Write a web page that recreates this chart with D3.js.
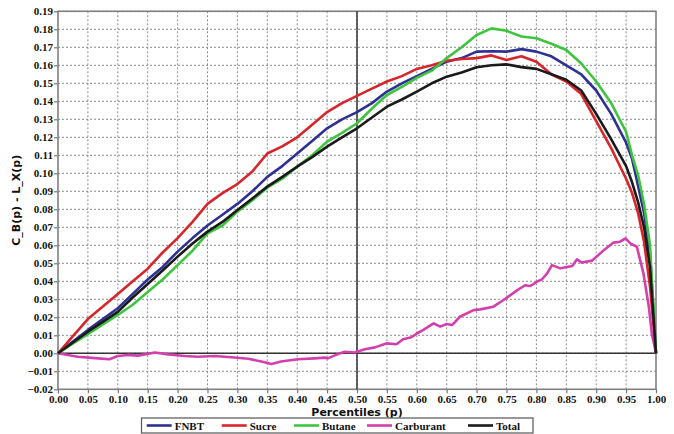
<!DOCTYPE html>
<html>
<head>
<meta charset="utf-8">
<script src="https://cdn.jsdelivr.net/npm/d3@7/dist/d3.min.js"></script>
<style>
  html, body { margin: 0; padding: 0; background: #fff; }
  svg { display: block; }
  .tick text { font-family: "Liberation Serif", "Times New Roman", serif; font-weight: bold; font-size: 11px; fill: #111; }
</style>
</head>
<body>
<svg id="chart" width="674" height="434"></svg>
<script>
// Percentile grid shared by the four main series
const pGrid = [0, .025, .05, .075, .10, .125, .15, .175, .20, .225, .25, .275, .30, .325, .35, .375,
  .40, .425, .45, .475, .50, .525, .55, .575, .60, .625, .65, .675, .70, .725, .75, .775, .80, .825,
  .85, .875, .90, .925, .95, .96, .97, .98, .99, 1.0];

const fnbt = [0, .0065, .013, .019, .025, .033, .041, .048, .0565, .064, .071, .077, .083, .090, .098, .104,
  .111, .118, .125, .130, .134, .139, .1454, .150, .154, .158, .162, .164, .1676, .1678, .1676, .169, .1676, .165,
  .160, .155, .146, .133, .117, .108, .093, .078, .055, 0];

const sucre = [0, .0095, .019, .026, .033, .040, .047, .056, .064, .073, .083, .089, .094, .101, .111, .115,
  .120, .127, .134, .139, .143, .147, .151, .154, .158, .160, .1625, .1635, .164, .1655, .163, .165, .162, .155,
  .151, .144, .129, .114, .097, .089, .078, .062, .037, 0];

const butane = [0, .0055, .0107, .016, .0213, .027, .034, .041, .049, .057, .0666, .071, .0787, .085, .092, .097,
  .1037, .110, .1176, .1225, .1278, .136, .1435, .148, .153, .157, .164, .170, .1768, .1805, .1792, .176, .175, .172,
  .1685, .161, .151, .139, .123, .110, .099, .083, .060, 0];

const total = [0, .006, .012, .0175, .023, .031, .0385, .046, .0537, .061, .0676, .073, .0796, .086, .0926, .098,
  .1037, .109, .1148, .120, .125, .131, .137, .141, .1454, .150, .1537, .156, .1589, .160, .1605, .159, .158, .155,
  .152, .146, .133, .119, .104, .095, .084, .070, .048, 0];

// Carburant has its own, finer percentile grid
const pCarburant = [0, .033, .067, .086, .10, .117, .134, .145, .162, .184, .212, .234, .262, .29, .318, .34, .357,
  .373, .401, .429, .446, .451, .465, .479, .496, .513, .53, .549, .566, .577, .591, .60, .611, .628, .639, .65, .659,
  .672, .695, .706, .728, .745, .767, .781, .79, .801, .809, .818, .826, .84, .86, .868, .876, .893, .91, .929, .94,
  .949, .957, .968, .979, .988, .993, 1.0];
const carburant = [0, -.0019, -.0028, -.0033, -.0015, -.0009, -.0013, -.0006, .0004, -.0006, -.0015, -.0019, -.0015,
  -.0022, -.003, -.0046, -.0059, -.0046, -.0033, -.0028, -.0024, -.0028, -.0009, .0009, .0004, .0022, .0033, .0055,
  .005, .0078, .0089, .011, .013, .0166, .0148, .0163, .0157, .0203, .024, .0244, .0259, .0296, .0348, .0378, .0374,
  .0398, .041, .0444, .049, .0472, .0485, .0522, .0504, .0515, .0565, .0615, .062, .0639, .0611, .0592, .0444, .0259,
  .011, 0];

const xTicks = d3.range(0, 21).map(i => i * 0.05);
const yTicks = d3.range(-2, 20).map(i => i * 0.01);

const seriesNames = ["FNBT", "Sucre", "Butane", "Carburant", "Total"];
const seriesColors = ["#2e3192", "#d7262b", "#3ec43e", "#d43fae", "#1a1a1a"];

const series = [
  { name: "FNBT", p: pGrid, v: fnbt },
  { name: "Sucre", p: pGrid, v: sucre },
  { name: "Butane", p: pGrid, v: butane },
  { name: "Carburant", p: pCarburant, v: carburant },
  { name: "Total", p: pGrid, v: total }
];

const svg = d3.select("#chart");
const plotL = 58, plotR = 656, plotT = 11.3, plotB = 389.3;

const x = d3.scaleLinear().domain([0, 1]).range([plotL, plotR]);
const y = d3.scaleLinear().domain([-0.02, 0.19]).range([plotB, plotT]);
const color = d3.scaleOrdinal().domain(seriesNames).range(seriesColors);

// dotted grid
const grid = svg.append("g");
grid.selectAll("line.gx").data(xTicks.slice(1, -1)).join("line")
  .attr("x1", d => x(d)).attr("x2", d => x(d)).attr("y1", plotT).attr("y2", plotB)
  .attr("stroke", "#8a8a8a").attr("stroke-width", 1).attr("stroke-dasharray", "2,2");
grid.selectAll("line.gy").data(yTicks.slice(1)).join("line")
  .attr("x1", plotL).attr("x2", plotR).attr("y1", d => y(d)).attr("y2", d => y(d))
  .attr("stroke", "#8a8a8a").attr("stroke-width", 1).attr("stroke-dasharray", "2,2");

// axes
const fmt = d3.format(".2f");
const xAxis = svg.append("g").attr("transform", `translate(0,${plotB})`)
  .call(d3.axisBottom(x).tickValues(xTicks).tickFormat(fmt).tickSize(4).tickPadding(2));
const yAxis = svg.append("g").attr("transform", `translate(${plotL},0)`)
  .call(d3.axisLeft(y).tickValues(yTicks).tickFormat(fmt).tickSize(4).tickPadding(1));
[xAxis, yAxis].forEach(a => {
  a.select(".domain").remove();
  a.selectAll(".tick line").attr("stroke", "#777").attr("stroke-width", 1.2);
});

// frame
svg.append("rect").attr("x", plotL).attr("y", plotT).attr("width", plotR - plotL).attr("height", plotB - plotT)
  .attr("fill", "none").attr("stroke", "#808080").attr("stroke-width", 1.6);

// reference lines: zero and median
svg.append("line").attr("x1", plotL).attr("x2", plotR).attr("y1", y(0)).attr("y2", y(0))
  .attr("stroke", "#333").attr("stroke-width", 1.5);
svg.append("line").attr("x1", x(0.5)).attr("x2", x(0.5)).attr("y1", plotT).attr("y2", plotB)
  .attr("stroke", "#333").attr("stroke-width", 1.5);

// curves
const line = d3.line().x(d => x(d[0])).y(d => y(d[1]));
svg.append("g").selectAll("path").data(series).join("path")
  .attr("d", s => line(s.p.map((p, i) => [p, s.v[i]])))
  .attr("fill", "none")
  .attr("stroke", s => color(s.name))
  .attr("stroke-width", 2.6)
  .attr("stroke-linejoin", "round");

// axis titles
svg.append("text").attr("x", (plotL + plotR) / 2).attr("y", 415.5).attr("text-anchor", "middle")
  .attr("font-family", "DejaVu Sans, Verdana, sans-serif").attr("font-weight", "bold").attr("font-size", 11)
  .attr("fill", "#111").text("Percentiles (p)");
svg.append("text").attr("transform", `translate(20,${(plotT + plotB) / 2}) rotate(-90)`).attr("text-anchor", "middle")
  .attr("font-family", "DejaVu Sans, Verdana, sans-serif").attr("font-weight", "bold").attr("font-size", 11)
  .attr("fill", "#111").text("C_B(p) - L_X(p)");

// legend
const legendX = [146.7, 221.7, 294, 367, 468];
const lg = svg.append("g");
lg.append("rect").attr("x", 141.5).attr("y", 418).attr("width", 391.5).attr("height", 15)
  .attr("fill", "#fff").attr("stroke", "#555").attr("stroke-width", 1.2);
seriesNames.forEach((n, i) => {
  lg.append("line").attr("x1", legendX[i]).attr("x2", legendX[i] + 25).attr("y1", 425.5).attr("y2", 425.5)
    .attr("stroke", color(n)).attr("stroke-width", 2.6);
  lg.append("text").attr("x", legendX[i] + 28).attr("y", 429.5)
    .attr("font-family", "Liberation Serif, Times New Roman, serif").attr("font-weight", "bold").attr("font-size", 11)
    .attr("fill", "#111").text(n);
});
</script>
</body>
</html>
